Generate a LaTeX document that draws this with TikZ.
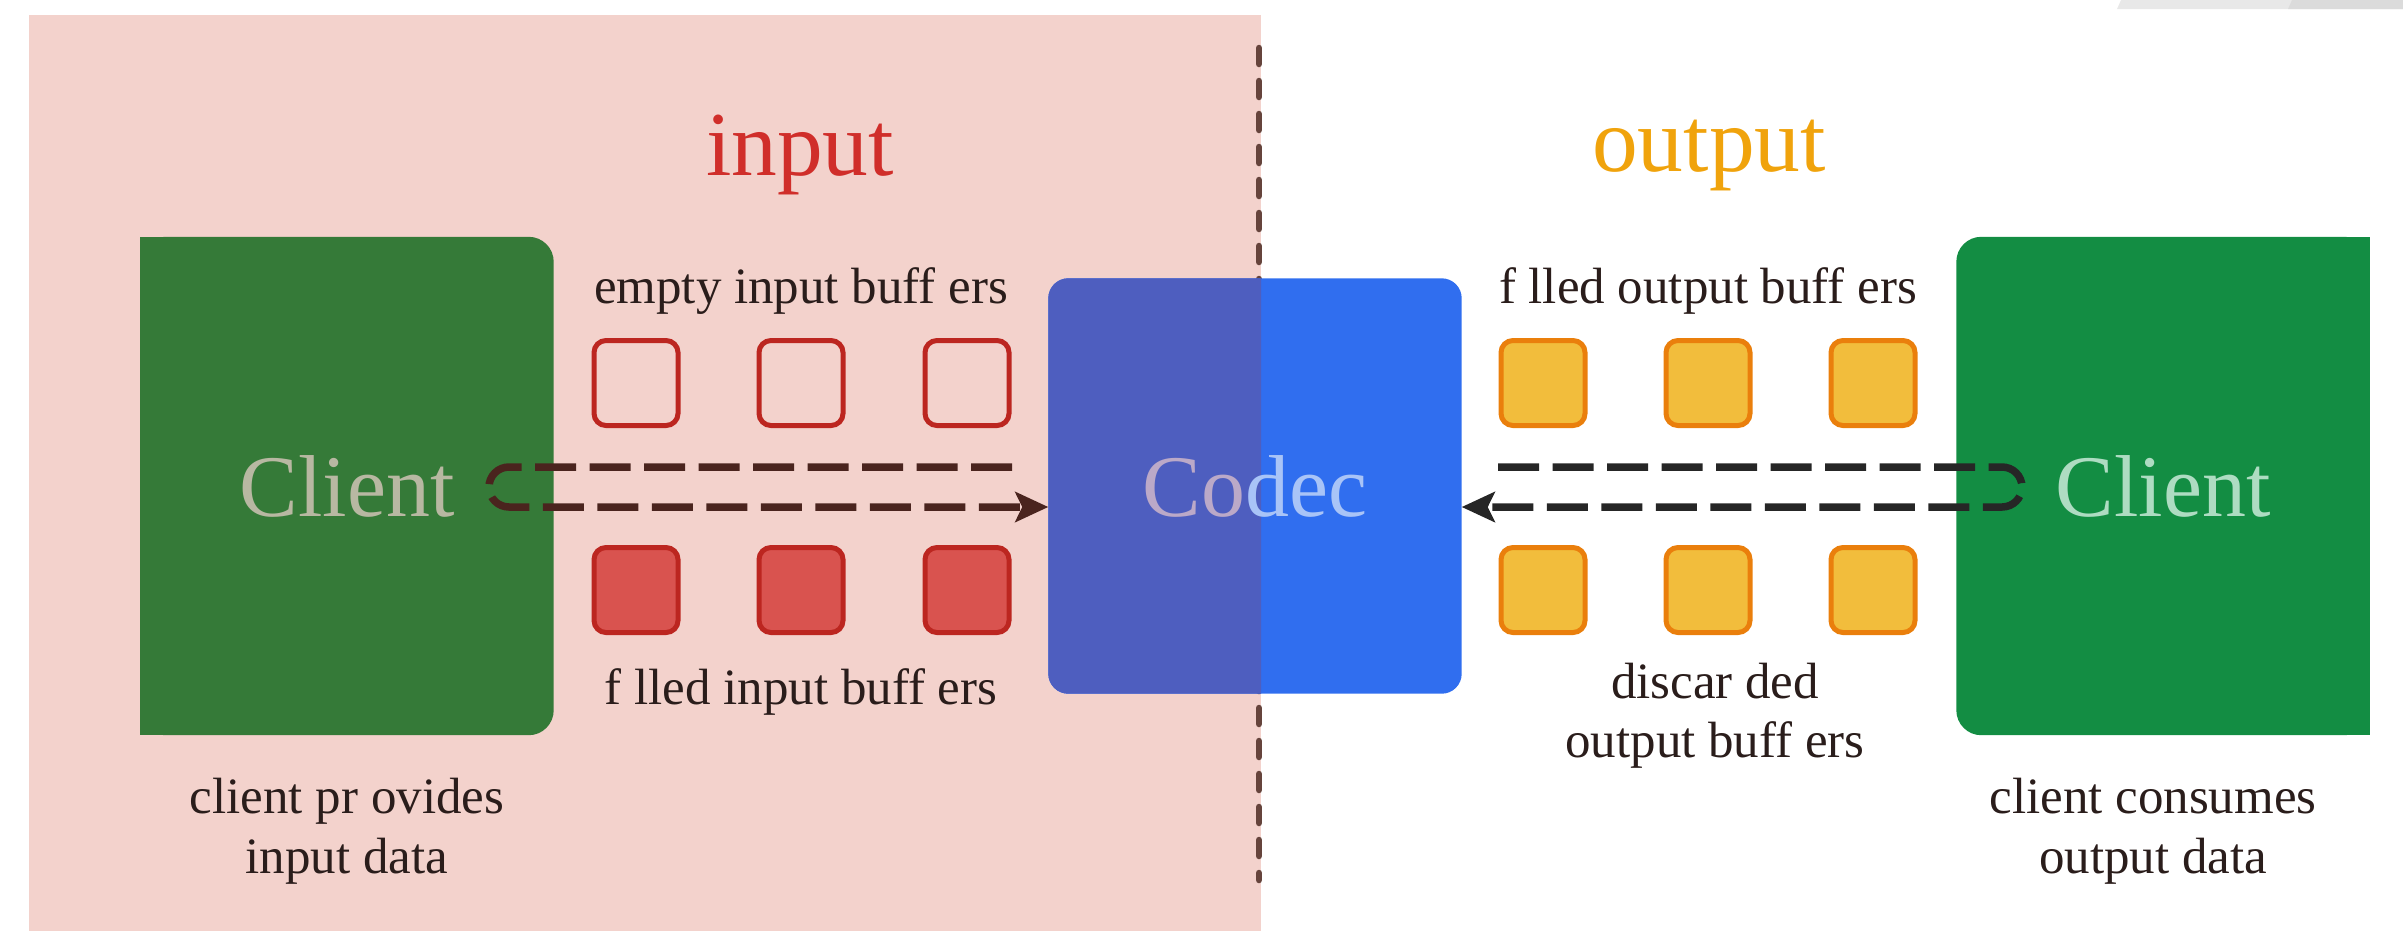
\documentclass[tikz,border=0pt]{standalone}
\usepackage{fontspec}
\setmainfont{Liberation Serif}
\usepackage{tikz}
\usetikzlibrary{positioning,calc,backgrounds,arrows.meta}
\definecolor{ink}        {HTML}{2A1D1B}
\definecolor{blush}      {HTML}{F3D2CC}
\definecolor{divider}    {HTML}{66443C}
\definecolor{leafdark}   {HTML}{357A38}
\definecolor{leaf}       {HTML}{138D43}
\definecolor{leafdarktxt}{HTML}{B8B8A2}
\definecolor{leaftxt}    {HTML}{AEDCC2}
\definecolor{codecblue}  {HTML}{306EEF}
\definecolor{codecmix}   {HTML}{4E5EBF}
\definecolor{codectxtA}  {HTML}{BBA9C8}
\definecolor{codectxtB}  {HTML}{A9C4F7}
\definecolor{inred}      {HTML}{D02E2A}
\definecolor{bufred}     {HTML}{BC2620}
\definecolor{bufredfill} {HTML}{D9534F}
\definecolor{outamber}   {HTML}{F0A30C}
\definecolor{bufamber}   {HTML}{EA7F0C}
\definecolor{bufamberfill}{HTML}{F2BD3C}
\definecolor{flowbrown}  {HTML}{4A241E}
\definecolor{flowgrey}   {HTML}{262626}
\tikzset{
  >={Stealth[length=3.3mm,width=3mm,inset=0.7mm]},
  % --- nodes
  box/.style   = {minimum width=41.2mm, inner sep=0pt, font=\fontsize{25}{28}\selectfont},
  title/.style = {inner sep=0pt, font=\fontsize{26}{30}\selectfont},
  lbl/.style   = {inner sep=0pt, align=center, text=ink, font=\fontsize{14.5}{17}\selectfont},
  buf/.style   = {rounded corners=1.2mm, line width=0.5mm, minimum width=8.4mm,
                  minimum height=8.5mm, inner sep=0pt},
  ebuf/.style  = {buf, draw=bufred},
  fbuf/.style  = {buf, draw=bufred, fill=bufredfill},
  obuf/.style  = {buf, draw=bufamber, fill=bufamberfill},
  % --- edges
  flow/.style  = {->, line width=0.75mm, dash pattern=on 4.1mm off 1.35mm, rounded corners=2mm},
  flowL/.style = {flow, draw=flowbrown},
  flowR/.style = {flow, draw=flowgrey},
}

\begin{document}
\begin{tikzpicture}[x=0.1mm, y=-0.1mm]
  \useasboundingbox (0,0) rectangle (2403,931);

  % the three main blocks
  \node[box, minimum height=49.7mm, text=leafdarktxt] (cliL) at (347,486) {Client};
  \node[box, minimum height=41.4mm] (codec) at (1255,486) {\color{codectxtA}Co\color{codectxtB}dec};
  \node[box, minimum height=49.7mm, text=leaftxt] (cliR) at (2163,486) {Client};

  \coordinate (zoneA) at (29,15);
  \coordinate (zoneB) at (1261,931);

  \begin{scope}[on background layer]
    \fill[blush] (zoneA) rectangle (zoneB);
    \fill[black!9]  (2117,9) -- (2121,0) -- (2403,0) -- (2403,9) -- cycle;
    \fill[black!14] (2288,9) -- (2292,0) -- (2403,0) -- (2403,9) -- cycle;
    \draw[divider, line width=0.65mm, line cap=round, dash pattern=on 1.6mm off 1.7mm]
      (1259,48) -- (1259,880);
    % client blocks are only rounded on the inner side
    \fill[leafdark, rounded corners=2.5mm] (cliL.south west) rectangle (cliL.north east);
    \fill[leafdark] (cliL.south west) rectangle (cliL.north);
    \fill[leaf, rounded corners=2.5mm] (cliR.south west) rectangle (cliR.north east);
    \fill[leaf] (cliR.south) rectangle (cliR.north east);
    \fill[codecblue, rounded corners=2mm] (codec.south west) rectangle (codec.north east);
    \begin{scope}
      \clip (zoneA) rectangle (zoneB);
      \fill[codecmix, rounded corners=2mm] (codec.south west) rectangle (codec.north east);
    \end{scope}
  \end{scope}

  \node[title, text=inred]    (tIn)  at (800,155)  {input};
  \node[title, text=outamber] (tOut) at (1709,155) {output};

  % buffer rows
  \foreach \i/\x in {1/636,2/801,3/967} {
    \node[ebuf] (eb\i) at (\x,383) {};
    \node[fbuf] (fb\i) at (\x,590) {};
  }
  \foreach \i/\x in {1/1543,2/1708,3/1873} {
    \node[obuf] (ob\i) at (\x,383) {};
    \node[obuf] (db\i) at (\x,590) {};
  }

  \node[lbl, above=2.3mm of eb2] (lblEmpty)   {empty input buff ers};
  \node[lbl, below=3.3mm of fb2] (lblFilled)  {f lled input buff ers};
  \node[lbl, above=2.3mm of ob2] (lblOutFull) {f lled output buff ers};
  \node[lbl, below=2.7mm of db2, xshift=0.7mm] (lblDrop) {discar ded\\output buff ers};
  \node[lbl, below=4.2mm of cliL] (capL) {client pr ovides\\input data};
  \node[lbl, below=4.2mm of cliR, xshift=-1mm] (capR) {client consumes\\output data};

  % buffer round trips
  \coordinate (inStart)  at (1012,467);
  \coordinate (inBend)   at (489,467);
  \coordinate (inEnd)    at ($(codec.west)+(0,21)$);
  \draw[flowL] (inStart) -- (inBend) -- (inBend |- inEnd) -- (inEnd);

  \coordinate (outStart) at (1498,467);
  \coordinate (outBend)  at (2022,467);
  \coordinate (outEnd)   at ($(codec.east)+(0,21)$);
  \draw[flowR] (outStart) -- (outBend) -- (outBend |- outEnd) -- (outEnd);
\end{tikzpicture}
\end{document}
